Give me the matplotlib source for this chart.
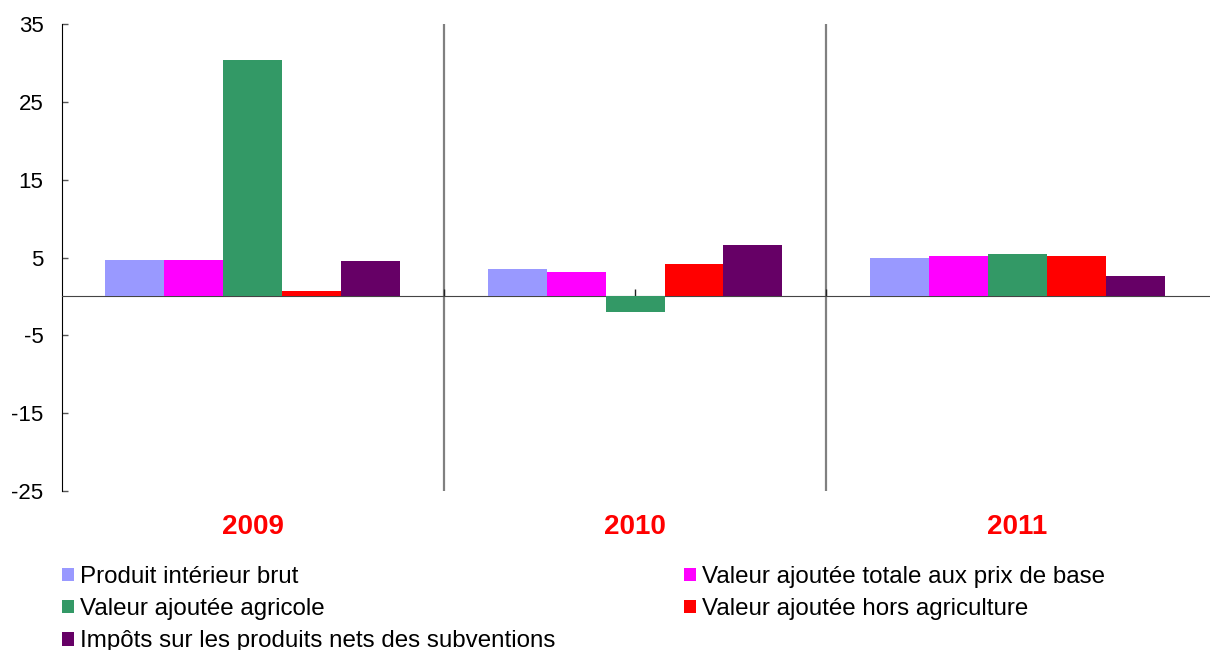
import matplotlib
matplotlib.use("Agg")
import matplotlib.pyplot as plt
import numpy as np
from matplotlib.transforms import blended_transform_factory
from matplotlib.patches import Patch

plt.rcParams['font.family'] = ['Liberation Sans', 'DejaVu Sans']

years = ["2009", "2010", "2011"]
series_names = [
    "Produit intérieur brut",
    "Valeur ajoutée totale aux prix de base",
    "Valeur ajoutée agricole",
    "Valeur ajoutée hors agriculture",
    "Impôts sur les produits nets des subventions",
]
pib = [4.7, 3.5, 4.9]
va_totale = [4.7, 3.2, 5.2]
va_agricole = [30.4, -2.0, 5.5]
va_hors_agri = [0.7, 4.2, 5.2]
impots = [4.5, 6.6, 2.6]
colors = ["#9999FF", "#FF00FF", "#339966", "#FF0000", "#660066"]
yticks = [-25, -15, -5, 5, 15, 25, 35]

values = [pib, va_totale, va_agricole, va_hors_agri, impots]

fig = plt.figure(figsize=(12.1, 6.5), dpi=100)
ax = fig.add_axes([61.5/1210, 1 - 491/650, 1 - 61.5/1210 - 0.001, (491 - 24)/650])

x = np.arange(len(years))
bw = 0.154
for i, (vals, c) in enumerate(zip(values, colors)):
    ax.bar(x + (i - 2) * bw, vals, width=bw, color=c, edgecolor='none', zorder=3)

ax.set_xlim(-0.5, 2.5)
ax.set_ylim(-25, 35)
ax.set_yticks(yticks)
ax.set_yticklabels([str(t) for t in yticks], fontsize=16)
ax.tick_params(axis='y', direction='in', length=4.5, width=1, pad=13, color='#555555')

# x axis at zero
ax.spines['bottom'].set_position(('data', 0))
ax.spines['bottom'].set_color('#444444')
ax.spines['top'].set_visible(False)
ax.spines['right'].set_visible(False)
ax.spines['left'].set_color('black')
ax.set_xticks([0, 0.5, 1, 1.5, 2])
ax.set_xticklabels([])
ax.tick_params(axis='x', direction='in', length=5, width=1, color='#222222')

for b in [0.5, 1.5]:
    ax.axvline(b, color='#808080', lw=1.6, zorder=1)

trans = blended_transform_factory(ax.transData, fig.transFigure)
for xi, yr in zip(x, years):
    ax.text(xi, 1 - 527/650, yr, transform=trans, ha='center', va='center',
            fontsize=20, fontweight='bold', color='#FF0000')

handles = [Patch(facecolor=c, edgecolor='none') for c in colors]
leg_kw = dict(frameon=False, fontsize=17.4, handlelength=0.5, handleheight=0.5,
              handletextpad=0.25, labelspacing=0.42, borderpad=0, borderaxespad=0, loc='upper left')
l1 = fig.legend([handles[0], handles[2], handles[4]],
                [series_names[0], series_names[2], series_names[4]],
                bbox_to_anchor=(62/1210, 1 - 566/650), **leg_kw)
l2 = fig.legend([handles[1], handles[3]],
                [series_names[1], series_names[3]],
                bbox_to_anchor=(684/1210, 1 - 566/650), **leg_kw)

fig.savefig("out.png", dpi=100)
